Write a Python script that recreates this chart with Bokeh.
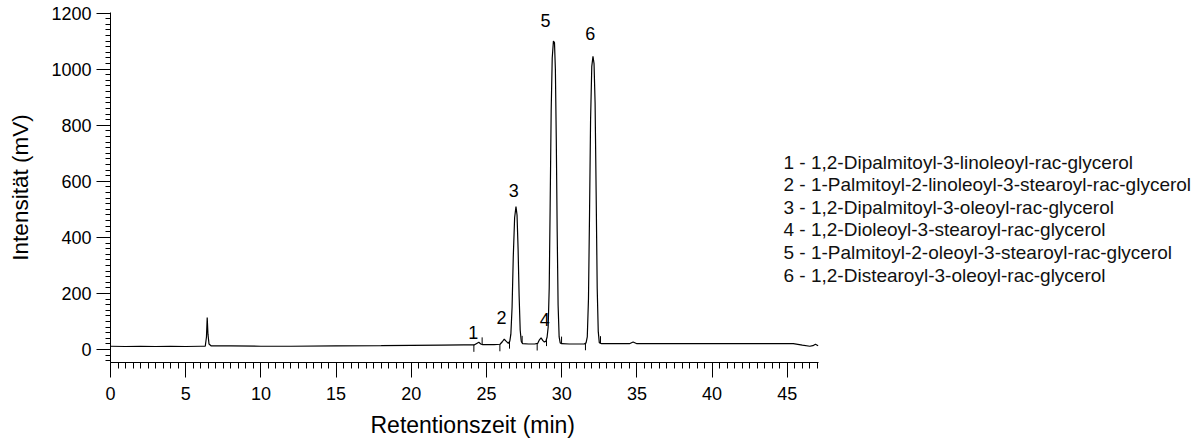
import numpy as np
from bokeh.plotting import figure
from bokeh.models import Range1d, FixedTicker, Title
from bokeh.core.properties import value
from bokeh.embed import file_html
from bokeh.resources import INLINE

# ---- data ----
time_min = [0.0, 1.0, 2.0, 3.0, 4.0, 5.0, 6.0, 6.3, 6.38, 6.43, 6.48, 6.55, 6.7, 8.0, 10.0,
            12.0, 15.0, 18.0, 20.0, 22.0, 23.5, 24.2, 24.35, 24.49, 24.62, 24.75, 25.5, 25.9,
            26.05, 26.18, 26.3, 26.45, 26.55, 26.62, 26.7, 26.78, 26.87, 26.96, 27.03, 27.1,
            27.17, 27.24, 27.31, 27.4, 27.8, 28.2, 28.4, 28.52, 28.63, 28.75, 28.85, 28.95,
            29.03, 29.1, 29.17, 29.23, 29.3, 29.37, 29.45, 29.52, 29.58, 29.64, 29.7, 29.76,
            29.83, 29.9, 30.0, 30.5, 31.0, 31.5, 31.62, 31.7, 31.78, 31.85, 31.92, 32.0, 32.08,
            32.15, 32.22, 32.29, 32.36, 32.43, 32.5, 32.65, 33.5, 34.5, 34.75, 35.0, 37.0, 40.0,
            43.0, 45.4, 46.0, 46.5, 46.7, 46.87, 47.05]
intensity_mv = [12, 11, 12, 11, 12, 11, 12, 12, 45, 114, 55, 20, 13, 13, 12,
                12, 13, 14, 15, 16, 17, 17, 22, 26, 20, 18, 18, 19,
                28, 37, 30, 22, 30, 55, 150, 330, 470, 510, 480, 360,
                190, 70, 30, 21, 20, 20, 22, 35, 42, 32, 27, 30,
                45, 80, 220, 500, 850, 1040, 1100, 1095, 1000, 750, 420, 160,
                45, 24, 21, 20, 20, 20, 24, 45, 180, 480, 820, 1010, 1046,
                1020, 880, 560, 220, 65, 25, 21, 21, 21, 27, 21, 21, 21,
                21, 21, 16, 12, 14, 19, 14]

# integration marks (start = down, end = up)
mark_time = [24.16, 24.71, 25.89, 26.53, 27.37, 28.37, 28.99, 29.99, 31.58, 32.58]
mark_dir = [-1, 1, -1, -1, 1, -1, -1, 1, -1, 1]

# peak numbers and their label positions
peak_ids = ["1", "2", "3", "4", "5", "6"]
peak_label_time = [24.12, 26.0, 26.81, 28.88, 28.92, 31.9]
peak_label_mv = [60, 114, 569, 107, 1174, 1127]

compounds = [
    "1 - 1,2-Dipalmitoyl-3-linoleoyl-rac-glycerol",
    "2 - 1-Palmitoyl-2-linoleoyl-3-stearoyl-rac-glycerol",
    "3 - 1,2-Dipalmitoyl-3-oleoyl-rac-glycerol",
    "4 - 1,2-Dioleoyl-3-stearoyl-rac-glycerol",
    "5 - 1-Palmitoyl-2-oleoyl-3-stearoyl-rac-glycerol",
    "6 - 1,2-Distearoyl-3-oleoyl-rac-glycerol",
]

y_ticks = [0, 200, 400, 600, 800, 1000, 1200]
x_ticks = [0, 5, 10, 15, 20, 25, 30, 35, 40, 45]

FONT = "Liberation Sans"

# ---- layout ----
W, H = 1201, 444
left, right, top, bottom = 110, 6, 12, 81
px_per_min = 15.04
x_end = (W - left - right) / px_per_min
y0, y1 = -46, 1202
px_per_mv = (H - top - bottom) / (y1 - y0)
zero_px = top + (y1 - 0) * px_per_mv


def px_to_mv(py):
    return (zero_px - py) / px_per_mv


def px_to_min(px):
    return (px - left) / px_per_min


p = figure(width=W, height=H, output_backend="svg", toolbar_location=None,
           x_range=Range1d(0, x_end), y_range=Range1d(y0, y1),
           min_border_left=left, min_border_right=right,
           min_border_top=top, min_border_bottom=bottom)
p.xgrid.visible = False
p.ygrid.visible = False
p.outline_line_color = None
p.background_fill_color = "white"
p.border_fill_color = "white"

p.line(time_min, intensity_mv, line_color="black", line_width=1.2)

base_at_marks = np.interp(mark_time, time_min, intensity_mv)
mark_len = 25
p.segment(x0=mark_time, y0=base_at_marks, x1=mark_time,
          y1=base_at_marks + np.array(mark_dir) * mark_len,
          line_color="black", line_width=1)

p.text(x=peak_label_time, y=peak_label_mv, text=peak_ids, text_align="center",
       text_baseline="middle", text_font=value(FONT), text_font_size="18px",
       text_color="black")

# legend block (text rows)
leg_x = px_to_min(783)
leg_y = [px_to_mv(162 + 22.67 * i) for i in range(len(compounds))]
p.text(x=[leg_x] * len(compounds), y=leg_y, text=compounds, text_align="left",
       text_baseline="middle", text_font=value(FONT), text_font_size="19px",
       text_color="#111111")

# axes
xa = p.xaxis[0]
xa.bounds = (0, 47.05)
xa.ticker = FixedTicker(ticks=x_ticks, minor_ticks=[i * 0.5 for i in range(0, 95)])
ya = p.yaxis[0]
ya.ticker = FixedTicker(ticks=y_ticks, minor_ticks=list(range(-40, 1201, 20)))
ya.axis_label = "Intensität (mV)"

for ax in (xa, ya):
    ax.axis_line_color = "black"
    ax.axis_line_width = 1
    ax.major_tick_line_color = "black"
    ax.minor_tick_line_color = "black"
    ax.major_tick_in = 0
    ax.minor_tick_in = 0
    ax.major_label_text_font = FONT
    ax.major_label_text_font_size = "18px"
    ax.major_label_text_color = "black"
    ax.axis_label_text_font = FONT
    ax.axis_label_text_font_size = "22.5px"
    ax.axis_label_text_font_style = "normal"
    ax.axis_label_text_color = "black"

xa.major_tick_out = 15
xa.minor_tick_out = 6
xa.major_label_standoff = 9
ya.major_tick_out = 14
ya.minor_tick_out = 5
ya.major_label_standoff = 5
ya.axis_label_standoff = 15

# x-axis title, centred under the bounded axis rather than the whole frame
p.add_layout(Title(text="Retentionszeit (min)", align="left", offset=260,
                   text_font=FONT, text_font_size="23px",
                   text_font_style="normal", text_color="black", standoff=14), "below")

open("out.html", "w").write(file_html(p, INLINE))
